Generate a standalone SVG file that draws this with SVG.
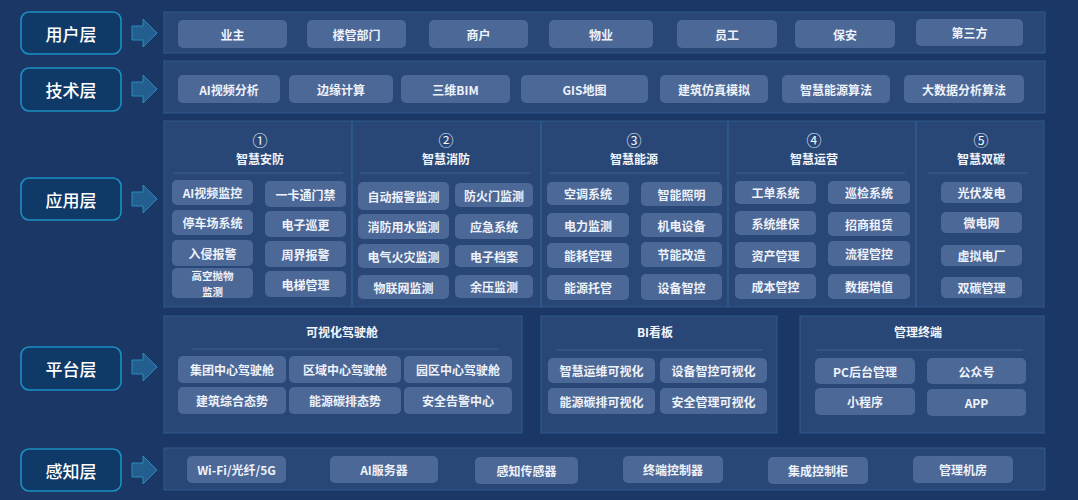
<svg xmlns="http://www.w3.org/2000/svg" width="1078" height="500" viewBox="0 0 1078 500">
<style>
.bg{fill:#1b3765}
.lb rect{fill:#0f3a68;stroke:#1d8fc2;stroke-width:1.6}
.lb text{fill:#ffffff;font-family:"Noto Sans CJK SC","Noto Sans",sans-serif;font-size:17px;font-weight:500;text-anchor:middle;dominant-baseline:central}
.ar{fill:#245e8e;stroke:#2a8bbb;stroke-width:1}
.band{fill:#284777;stroke:#2f5b8c;stroke-width:1}
.it rect{fill:#4c6897}
.it text,.t{fill:#eef2fa;font-family:"Noto Sans CJK SC","Noto Sans",sans-serif;font-size:12px;font-weight:bold;text-anchor:middle;dominant-baseline:central}
.hd{fill:#f2f5fb;font-family:"Noto Sans CJK SC","Noto Sans",sans-serif;font-size:12px;font-weight:bold;text-anchor:middle;dominant-baseline:central}
.num{font-size:15px;font-weight:normal}
.sep{stroke:#3f6290;stroke-width:1}
.dv{stroke:#2f6694;stroke-width:1.2}
</style>
<rect class="bg" x="0" y="0" width="1078" height="500"/>

<g id="connectors">
<path class="ar" d="M132 26 H143 V19 L157 33 L143 47 V40 H132 Z"/>
<path class="ar" d="M132 82 H143 V75 L157 89 L143 103 V96 H132 Z"/>
<path class="ar" d="M132 192 H143 V185 L157 199 L143 213 V206 H132 Z"/>
<path class="ar" d="M132 360 H143 V353 L157 367 L143 381 V374 H132 Z"/>
<path class="ar" d="M132 463 H143 V456 L157 470 L143 484 V477 H132 Z"/>
</g>

<g id="layer-labels">
<g id="label-user" class="lb"><rect x="21" y="12" width="100" height="42" rx="8"/><text x="71" y="33">用户层</text></g>
<g id="label-tech" class="lb"><rect x="21" y="68" width="100" height="43" rx="8"/><text x="71" y="89.5">技术层</text></g>
<g id="label-app" class="lb"><rect x="21" y="178" width="100" height="42" rx="8"/><text x="71" y="199">应用层</text></g>
<g id="label-platform" class="lb"><rect x="21" y="347" width="100" height="43" rx="8"/><text x="71" y="368.5">平台层</text></g>
<g id="label-sense" class="lb"><rect x="21" y="449" width="100" height="42" rx="8"/><text x="71" y="470">感知层</text></g>
</g>

<g id="user-layer">
<rect class="band" x="164" y="12" width="881" height="41"/>
<g class="it"><rect x="178" y="20" width="109" height="28" rx="5"/><text x="232.5" y="34">业主</text></g>
<g class="it"><rect x="307" y="20" width="99" height="28" rx="5"/><text x="356.5" y="34">楼管部门</text></g>
<g class="it"><rect x="429" y="20" width="99" height="28" rx="5"/><text x="478.5" y="34">商户</text></g>
<g class="it"><rect x="549" y="20" width="104" height="28" rx="5"/><text x="601" y="34">物业</text></g>
<g class="it"><rect x="677" y="20" width="100" height="28" rx="5"/><text x="727" y="34">员工</text></g>
<g class="it"><rect x="795" y="20" width="100" height="28" rx="5"/><text x="845" y="34">保安</text></g>
<g class="it"><rect x="916" y="19" width="107" height="27" rx="5"/><text x="969.5" y="32.5">第三方</text></g>
</g>

<g id="tech-layer">
<rect class="band" x="164" y="61" width="881" height="52"/>
<g class="it"><rect x="178" y="75" width="102" height="28" rx="5"/><text x="229" y="89">AI视频分析</text></g>
<g class="it"><rect x="289" y="75" width="104" height="28" rx="5"/><text x="341" y="89">边缘计算</text></g>
<g class="it"><rect x="401" y="75" width="109" height="28" rx="5"/><text x="455.5" y="89">三维BIM</text></g>
<g class="it"><rect x="521" y="75" width="127" height="28" rx="5"/><text x="584.5" y="89">GIS地图</text></g>
<g class="it"><rect x="660" y="75" width="108" height="28" rx="5"/><text x="714" y="89">建筑仿真模拟</text></g>
<g class="it"><rect x="782" y="75" width="108" height="28" rx="5"/><text x="836" y="89">智慧能源算法</text></g>
<g class="it"><rect x="904" y="75" width="120" height="28" rx="5"/><text x="964" y="89">大数据分析算法</text></g>
</g>

<g id="app-layer">
<rect class="band" x="164" y="121" width="880" height="186"/>
<line class="dv" x1="352" y1="121" x2="352" y2="307"/>
<line class="dv" x1="541" y1="121" x2="541" y2="307"/>
<line class="dv" x1="728" y1="121" x2="728" y2="307"/>
<line class="dv" x1="916" y1="121" x2="916" y2="307"/>

<g id="app-security">
<text class="hd num" x="260" y="139">①</text>
<text class="hd" x="260" y="158">智慧安防</text>
<line class="sep" x1="173" y1="173" x2="343" y2="173"/>
<g class="it"><rect x="172" y="180" width="81" height="25" rx="5"/><text x="212.5" y="192.5">AI视频监控</text></g>
<g class="it"><rect x="172" y="210" width="81" height="25" rx="5"/><text x="212.5" y="222.5">停车场系统</text></g>
<g class="it"><rect x="172" y="240" width="81" height="26" rx="5"/><text x="212.5" y="253">入侵报警</text></g>
<g class="it"><rect x="172" y="268" width="81" height="30" rx="5"/><text x="212.5" y="275" style="font-size:10.5px"><tspan x="212.5" y="275">高空抛物</tspan><tspan x="212.5" y="290.5">监测</tspan></text></g>
<g class="it"><rect x="265" y="181" width="81" height="26" rx="5"/><text x="305.5" y="194">一卡通门禁</text></g>
<g class="it"><rect x="265" y="211" width="81" height="26" rx="5"/><text x="305.5" y="224">电子巡更</text></g>
<g class="it"><rect x="265" y="241" width="81" height="26" rx="5"/><text x="305.5" y="254">周界报警</text></g>
<g class="it"><rect x="265" y="271" width="81" height="26" rx="5"/><text x="305.5" y="284">电梯管理</text></g>
</g>

<g id="app-fire">
<text class="hd num" x="446" y="139">②</text>
<text class="hd" x="446" y="158">智慧消防</text>
<line class="sep" x1="360" y1="173" x2="530" y2="173"/>
<g class="it"><rect x="358" y="182" width="91" height="28" rx="5"/><text x="403.5" y="196">自动报警监测</text></g>
<g class="it"><rect x="358" y="214" width="91" height="25" rx="5"/><text x="403.5" y="226.5">消防用水监测</text></g>
<g class="it"><rect x="358" y="244" width="91" height="24" rx="5"/><text x="403.5" y="256">电气火灾监测</text></g>
<g class="it"><rect x="358" y="275" width="91" height="24" rx="5"/><text x="403.5" y="287">物联网监测</text></g>
<g class="it"><rect x="455" y="183" width="78" height="24" rx="5"/><text x="494" y="195">防火门监测</text></g>
<g class="it"><rect x="455" y="214" width="78" height="25" rx="5"/><text x="494" y="226.5">应急系统</text></g>
<g class="it"><rect x="455" y="245" width="78" height="22" rx="5"/><text x="494" y="256">电子档案</text></g>
<g class="it"><rect x="455" y="275" width="78" height="23" rx="5"/><text x="494" y="286.5">余压监测</text></g>
</g>

<g id="app-energy">
<text class="hd num" x="634" y="139">③</text>
<text class="hd" x="634" y="158">智慧能源</text>
<line class="sep" x1="549" y1="173" x2="720" y2="173"/>
<g class="it"><rect x="547" y="182" width="82" height="23" rx="5"/><text x="588" y="193.5">空调系统</text></g>
<g class="it"><rect x="547" y="213" width="82" height="24" rx="5"/><text x="588" y="225">电力监测</text></g>
<g class="it"><rect x="547" y="243" width="82" height="25" rx="5"/><text x="588" y="255.5">能耗管理</text></g>
<g class="it"><rect x="547" y="275" width="82" height="25" rx="5"/><text x="588" y="287.5">能源托管</text></g>
<g class="it"><rect x="641" y="182" width="81" height="24" rx="5"/><text x="681.5" y="194">智能照明</text></g>
<g class="it"><rect x="641" y="213" width="81" height="24" rx="5"/><text x="681.5" y="225">机电设备</text></g>
<g class="it"><rect x="641" y="242" width="81" height="25" rx="5"/><text x="681.5" y="254.5">节能改造</text></g>
<g class="it"><rect x="641" y="274" width="81" height="26" rx="5"/><text x="681.5" y="287">设备智控</text></g>
</g>

<g id="app-ops">
<text class="hd num" x="814" y="139">④</text>
<text class="hd" x="814" y="158">智慧运营</text>
<line class="sep" x1="736" y1="173" x2="905" y2="173"/>
<g class="it"><rect x="735" y="181" width="81" height="23" rx="5"/><text x="775.5" y="192.5">工单系统</text></g>
<g class="it"><rect x="735" y="211" width="81" height="24" rx="5"/><text x="775.5" y="223">系统维保</text></g>
<g class="it"><rect x="735" y="242" width="81" height="26" rx="5"/><text x="775.5" y="255">资产管理</text></g>
<g class="it"><rect x="735" y="274" width="81" height="25" rx="5"/><text x="775.5" y="286.5">成本管控</text></g>
<g class="it"><rect x="828" y="181" width="82" height="23" rx="5"/><text x="869" y="192.5">巡检系统</text></g>
<g class="it"><rect x="828" y="212" width="82" height="24" rx="5"/><text x="869" y="224">招商租赁</text></g>
<g class="it"><rect x="828" y="241" width="82" height="25" rx="5"/><text x="869" y="253.5">流程管控</text></g>
<g class="it"><rect x="828" y="274" width="82" height="25" rx="5"/><text x="869" y="286.5">数据增值</text></g>
</g>

<g id="app-carbon">
<text class="hd num" x="981" y="139">⑤</text>
<text class="hd" x="981" y="158">智慧双碳</text>
<line class="sep" x1="928" y1="173" x2="1028" y2="173"/>
<g class="it"><rect x="941" y="182" width="81" height="21" rx="5"/><text x="981.5" y="192.5">光伏发电</text></g>
<g class="it"><rect x="941" y="212" width="81" height="21" rx="5"/><text x="981.5" y="222.5">微电网</text></g>
<g class="it"><rect x="941" y="245" width="81" height="21" rx="5"/><text x="981.5" y="255.5">虚拟电厂</text></g>
<g class="it"><rect x="941" y="277" width="81" height="21" rx="5"/><text x="981.5" y="287.5">双碳管理</text></g>
</g>
</g>

<g id="platform-layer">
<g id="cockpit">
<rect class="band" x="164" y="316" width="358" height="117"/>
<text class="hd" x="342" y="331">可视化驾驶舱</text>
<line class="sep" x1="192" y1="349" x2="499" y2="349"/>
<g class="it"><rect x="178" y="356" width="108" height="27" rx="5"/><text x="232" y="369.5">集团中心驾驶舱</text></g>
<g class="it"><rect x="289" y="356" width="112" height="27" rx="5"/><text x="345" y="369.5">区域中心驾驶舱</text></g>
<g class="it"><rect x="404" y="356" width="108" height="27" rx="5"/><text x="458" y="369.5">园区中心驾驶舱</text></g>
<g class="it"><rect x="178" y="387" width="108" height="27" rx="5"/><text x="232" y="400.5">建筑综合态势</text></g>
<g class="it"><rect x="289" y="387" width="112" height="27" rx="5"/><text x="345" y="400.5">能源碳排态势</text></g>
<g class="it"><rect x="404" y="387" width="108" height="27" rx="5"/><text x="458" y="400.5">安全告警中心</text></g>
</g>
<g id="bi-board">
<rect class="band" x="541" y="316" width="236" height="117"/>
<text class="hd" x="655" y="331">BI看板</text>
<line class="sep" x1="556" y1="350" x2="762" y2="350"/>
<g class="it"><rect x="548" y="358" width="107" height="25" rx="5"/><text x="601.5" y="370.5">智慧运维可视化</text></g>
<g class="it"><rect x="660" y="358" width="107" height="25" rx="5"/><text x="713.5" y="370.5">设备智控可视化</text></g>
<g class="it"><rect x="548" y="388" width="107" height="26" rx="5"/><text x="601.5" y="401">能源碳排可视化</text></g>
<g class="it"><rect x="660" y="388" width="107" height="26" rx="5"/><text x="713.5" y="401">安全管理可视化</text></g>
</g>
<g id="mgmt-terminal">
<rect class="band" x="800" y="316" width="244" height="117"/>
<text class="hd" x="918" y="331">管理终端</text>
<line class="sep" x1="816" y1="350" x2="1023" y2="350"/>
<g class="it"><rect x="815" y="358" width="100" height="26" rx="5"/><text x="865" y="371">PC后台管理</text></g>
<g class="it"><rect x="927" y="358" width="99" height="26" rx="5"/><text x="976.5" y="371">公众号</text></g>
<g class="it"><rect x="815" y="388" width="100" height="27" rx="5"/><text x="865" y="401.5">小程序</text></g>
<g class="it"><rect x="927" y="389" width="99" height="27" rx="5"/><text x="976.5" y="402.5">APP</text></g>
</g>
</g>

<g id="sense-layer">
<rect class="band" x="164" y="448" width="881" height="42"/>
<g class="it"><rect x="187" y="456" width="99" height="27" rx="5"/><text x="236.5" y="469.5">Wi-Fi/光纤/5G</text></g>
<g class="it"><rect x="330" y="456" width="108" height="27" rx="5"/><text x="384" y="469.5">AI服务器</text></g>
<g class="it"><rect x="475" y="457" width="103" height="27" rx="5"/><text x="526.5" y="470.5">感知传感器</text></g>
<g class="it"><rect x="623" y="456" width="100" height="27" rx="5"/><text x="673" y="469.5">终端控制器</text></g>
<g class="it"><rect x="768" y="457" width="100" height="27" rx="5"/><text x="818" y="470.5">集成控制柜</text></g>
<g class="it"><rect x="913" y="456" width="100" height="27" rx="5"/><text x="963" y="469.5">管理机房</text></g>
</g>
</svg>
